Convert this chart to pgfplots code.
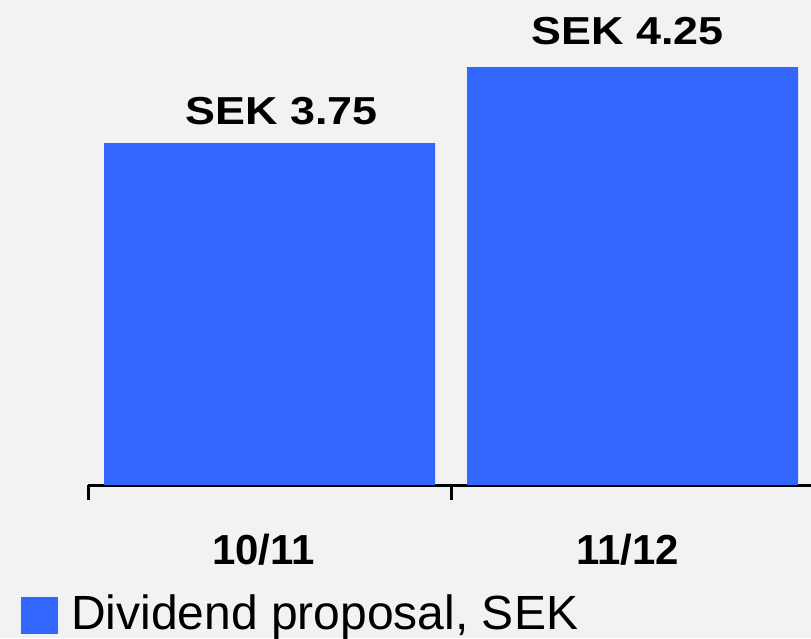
\documentclass[border=0pt]{standalone}
\usepackage{pgfplots}
\pgfplotsset{compat=1.18}
\usepackage{fontspec}
\setmainfont{Liberation Sans}
\definecolor{barblue}{HTML}{3366FF}
\definecolor{bg}{HTML}{F2F2F2}
\begin{document}
\begin{tikzpicture}
\path[use as bounding box, fill=bg] (0,0) rectangle (811pt,638pt);
\begin{axis}[at={(88pt,153pt)}, anchor=south west, scale only axis,
  width=726pt, height=485pt, xmin=-0.5, xmax=1.5, ymin=1.5, ymax=4.6908,
  hide y axis, axis x line*=bottom,
  axis line style={line width=3pt, black},
  xtick={-0.5,0.5,1.5}, xticklabels={}, tick align=outside,
  major tick length=15pt, tick style={line width=3pt, black},
  clip mode=individual]
\addplot[ybar, bar width=331pt, fill=barblue, draw=none] coordinates {(0,3.75) (1,4.25)};
\node[anchor=base, inner sep=0, font=\fontsize{39}{39}\selectfont\bfseries] at (axis cs:0,3.75) [xshift=12pt, yshift=19pt] {\scalebox{1.15}[1]{SEK 3.75}};
\node[anchor=base, inner sep=0, font=\fontsize{39}{39}\selectfont\bfseries] at (axis cs:1,4.25) [xshift=-5pt, yshift=23pt] {\scalebox{1.15}[1]{SEK 4.25}};
\node[anchor=base, inner sep=0, font=\fontsize{42}{42}\selectfont\bfseries] at (axis cs:0,1.5) [xshift=-6pt, yshift=-79pt] {10/11};
\node[anchor=base, inner sep=0, font=\fontsize{42}{42}\selectfont\bfseries] at (axis cs:1,1.5) [xshift=-5pt, yshift=-79pt] {11/12};
\end{axis}
\fill[barblue] (21pt,4pt) rectangle (58pt,41pt);
\node[anchor=base west, inner sep=0, font=\fontsize{48}{48}\selectfont] at (71pt,9pt) {Dividend proposal, SEK};
\end{tikzpicture}
\end{document}
